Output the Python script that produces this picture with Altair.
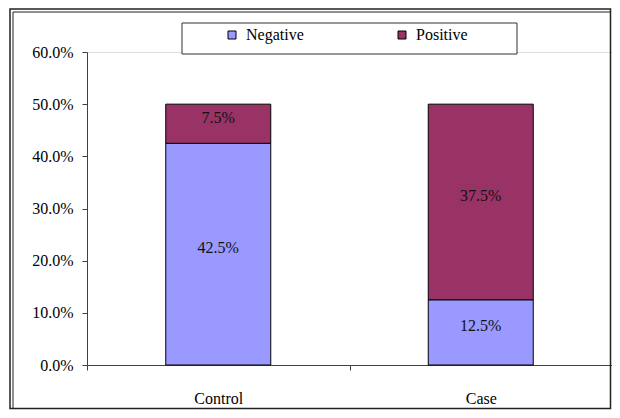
import altair as alt
import pandas as pd

groups = ["Control", "Control", "Case", "Case"]
statuses = ["Negative", "Positive", "Negative", "Positive"]
values = [0.425, 0.075, 0.125, 0.375]
y_ticks = [0.0, 0.1, 0.2, 0.3, 0.4, 0.5, 0.6]

df = pd.DataFrame({"group": groups, "status": statuses, "value": values})

FONT = "Liberation Serif"
FS = 16

x_enc = alt.X(
    "group:N",
    sort=["Control", "Case"],
    title=None,
    scale=alt.Scale(paddingInner=0, paddingOuter=0),
    axis=alt.Axis(
        labelAngle=0, labelPadding=20, labelFontSize=FS, labelFont=FONT,
        labelColor="black", tickBand="extent", tickSize=5, tickColor="#404040",
        domainColor="#404040", grid=False,
    ),
)

bars = alt.Chart(df).mark_bar(
    stroke="black", strokeWidth=1, width=alt.RelativeBandSize(0.4)
).encode(
    x=x_enc,
    y=alt.Y(
        "value:Q",
        stack="zero",
        title=None,
        scale=alt.Scale(domain=[0, 0.6], nice=False),
        axis=alt.Axis(
            values=y_ticks, format=".1%", labelFontSize=FS, labelFont=FONT,
            labelColor="black", tickSize=5, labelPadding=9, grid=False,
            tickColor="#404040", domainColor="#404040",
        ),
    ),
    color=alt.Color(
        "status:N",
        scale=alt.Scale(domain=["Negative", "Positive"], range=["#9999FF", "#993366"]),
        legend=alt.Legend(
            title=None, orient="none", legendX=137, legendY=-25, direction="horizontal",
            columns=2, columnPadding=90, symbolType="square", symbolSize=64,
            symbolStrokeColor="black", symbolStrokeWidth=1, labelFontSize=FS,
            labelFont=FONT, labelColor="black", symbolOffset=0, labelOffset=6,
        ),
    ),
    order=alt.Order("status:N", sort="ascending"),
)

labels = alt.Chart(df).transform_stack(
    stack="value", groupby=["group"], as_=["y0", "y1"], sort=[alt.SortField("status")]
).transform_calculate(
    mid="(datum.y0 + datum.y1) / 2"
).mark_text(fontSize=FS, font=FONT, color="#111", baseline="middle", dy=-6).encode(
    x=alt.X("group:N", sort=["Control", "Case"]),
    y=alt.Y("mid:Q"),
    text=alt.Text("value:Q", format=".1%"),
)

frame_df = pd.DataFrame({"a": [0]})
frame_outer = alt.Chart(frame_df).mark_rect(
    fill=None, stroke="#222", strokeWidth=1.5, clip=False
).encode(x=alt.value(-77), x2=alt.value(523.5), y=alt.value(-43), y2=alt.value(356.5))
frame_inner = alt.Chart(frame_df).mark_rect(
    fill=None, stroke="#222", strokeWidth=1, clip=False
).encode(x=alt.value(-74), x2=alt.value(523.5), y=alt.value(-40), y2=alt.value(356.5))

legend_box = alt.Chart(frame_df).mark_rect(
    fill="white", stroke="#333", strokeWidth=1, clip=False
).encode(
    x=alt.value(95), x2=alt.value(430), y=alt.value(-29), y2=alt.value(2),
)

chart = alt.layer(frame_outer, frame_inner, legend_box, bars, labels).properties(
    width=525, height=313,
    padding={"left": 79, "top": 44, "right": 0, "bottom": 45},
    autosize=alt.AutoSizeParams(type="none"),
).configure_view(stroke=None).configure(background="white")

chart.save("out.html", embed_options={"renderer": "svg", "actions": False})
